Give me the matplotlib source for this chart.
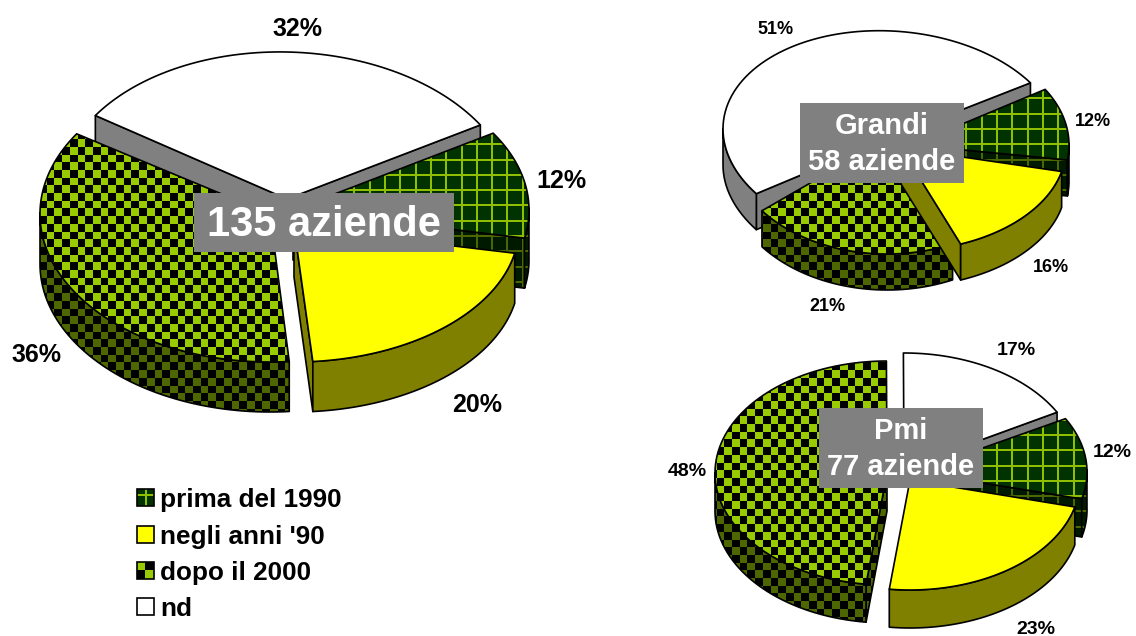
import numpy as np
import matplotlib
matplotlib.use("Agg")
import matplotlib.pyplot as plt
from matplotlib.patches import Polygon, Rectangle

plt.rcParams['font.family'] = ['Liberation Sans', 'DejaVu Sans']

# Data
categories = ['prima del 1990', 'negli anni \'90', 'dopo il 2000', 'nd']
totale = [12, 20, 36, 32]
grandi = [12, 16, 21, 51]
pmi = [12, 23, 48, 17]

W, H = 1136, 636

# Colours per category: top colours and wall colours
GRID_BG, GRID_LINE, GRID_LINE_DARK = '#003300', '#8fbf00', '#4d6600'
CHECK_A, CHECK_B, CHECK_A_DARK = '#99cc00', '#000000', '#4d6600'


def rgb(c):
    return np.array(matplotlib.colors.to_rgb(c))


def grid_image(bg, line, step=15.3, width=2):
    img = np.tile(rgb(bg), (H, W, 1))
    for v in np.arange(2, W, step):
        img[:, int(v):int(v) + width] = rgb(line)
    for v in np.arange(6, H, step):
        img[int(v):int(v) + width, :] = rgb(line)
    return img


def check_image(a, b, step=7.7):
    yy, xx = np.mgrid[0:H, 0:W]
    mask = ((xx // step + yy // step) % 2) == 0
    img = np.zeros((H, W, 3))
    img[mask] = rgb(a)
    img[~mask] = rgb(b)
    return img


grid_top = grid_image(GRID_BG, GRID_LINE)
grid_wall = grid_image('#001a00', GRID_LINE_DARK)
check_top = check_image(CHECK_A, CHECK_B)
check_wall = check_image(CHECK_A_DARK, CHECK_B)

top_fill = [grid_top, '#ffff00', check_top, '#ffffff']
wall_fill = [grid_wall, '#808000', check_wall, '#808080']

fig = plt.figure(figsize=(W / 100, H / 100), dpi=100)
ax = fig.add_axes([0, 0, 1, 1])
ax.set_xlim(0, W)
ax.set_ylim(H, 0)
ax.axis('off')


def fill_shape(pts, fill, z):
    if isinstance(fill, str):
        ax.add_patch(Polygon(pts, closed=True, fc=fill, ec='black', lw=1.2, zorder=z, joinstyle='round'))
    else:
        im = ax.imshow(fill, extent=(0, W, H, 0), interpolation='nearest', zorder=z, aspect='auto')
        clip = Polygon(pts, closed=True, transform=ax.transData, fc='none', ec='none')
        ax.add_patch(clip)
        im.set_clip_path(clip)
        ax.add_patch(Polygon(pts, closed=True, fc='none', ec='black', lw=1.2, zorder=z + 0.01, joinstyle='round'))


def pie3d(values, slices, nudges, start, depth, face_depth=None, draw_order=(3, 0, 2, 1), z0=1):
    # slices: per-slice (cx, cy, rx, ry, shear) of the exploded ellipse
    # nudges: per-slice angle correction for the picture's perspective
    edges = start + np.cumsum([0] + list(values)) * 3.6
    face_depth = face_depth or {}
    for n, i in enumerate(draw_order):
        cx, cy, rx, ry, shear = slices[i]
        t = np.radians(np.linspace(edges[i] + nudges[i][0], edges[i + 1] + nudges[i][1], 80))
        xs = cx + rx * np.sin(t)
        ys = cy - ry * np.cos(t) + shear * rx * np.sin(t)
        top = np.column_stack([np.r_[cx, xs], np.r_[cy, ys]])
        z = z0 + n
        d = face_depth.get(i, depth)
        # radial cut faces, only those turned towards the viewer
        if np.sin(t[0]) < -0.01:
            fill_shape([(cx, cy), (xs[0], ys[0]), (xs[0], ys[0] + d), (cx, cy + d)], wall_fill[i], z)
        if np.sin(t[-1]) > 0.01:
            fill_shape([(cx, cy), (xs[-1], ys[-1]), (xs[-1], ys[-1] + d), (cx, cy + d)], wall_fill[i], z)
        # outer wall, only the part facing the viewer
        vis = np.cos(t) <= 0.02
        if vis.any():
            wx, wy = xs[vis], ys[vis]
            wall = np.column_stack([np.r_[wx, wx[::-1]], np.r_[wy, wy[::-1] + depth]])
            fill_shape(wall, wall_fill[i], z + 0.1)
        fill_shape(top, top_fill[i], z + 0.2)


pie3d(totale,
      [(293, 210, 236, 145, 0), (294, 227, 225, 135, 0), (270, 214, 230, 148, 0), (287, 199, 228, 147, 0.02)],
      [(0, 0), (0, 2), (2, 0), (0, 0)], 58, 50)
pie3d(grandi,
      [(912, 145, 157, 105, 0), (901, 148, 165, 103, 0), (887, 139, 160, 115, 0), (892, 137, 169, 106, 0.048)],
      [(3, 0), (5, 3), (0, 0), (2, 0)], 55, 36)
pie3d(pmi,
      [(915, 472, 172, 110, 0), (910, 480, 170, 110, 0), (887, 473, 172, 112, 0), (904, 468, 175, 115, 0)],
      [(0, 0), (0, 0), (0, 0), (0, 0)], 61, 38, face_depth={3: 15})


def box_label(x0, y0, x1, y1, text, size, shift):
    ax.add_patch(Rectangle((x0, y0), x1 - x0, y1 - y0, fc='#808080', ec='none', zorder=20))
    ax.text((x0 + x1) / 2, (y0 + y1) / 2 + shift, text, color='white', fontsize=size, fontweight='bold',
            ha='center', va='center', zorder=21, linespacing=1.32)


box_label(194, 193, 454, 252, '135 aziende', 30, 3)
box_label(800, 103, 964, 183, 'Grandi\n58 aziende', 21, 1)
box_label(819, 408, 983, 488, 'Pmi\n77 aziende', 21, 1)


def pct_labels(values, places, size):
    for v, (x, y) in zip(values, places):
        ax.text(x, y + 1.5, f'{v}%', fontsize=size, fontweight='bold', ha='center', va='center', zorder=30)


pct_labels(totale, [(561, 180), (477, 403), (36, 353), (297, 27)], 18)
pct_labels(grandi, [(1093, 120), (1051, 266), (827, 305), (776, 28)], 13)
pct_labels(pmi, [(1112, 451), (1036, 628), (687, 470), (1016, 349)], 14)

# Legend
swatch_grid = np.tile(rgb(GRID_BG), (17, 17, 1))
swatch_grid[:, 8:10] = rgb(GRID_LINE)
swatch_grid[5:7, :] = rgb(GRID_LINE)
swatch_check = np.zeros((17, 17, 3))
swatch_check[:8, :8] = rgb(CHECK_A)
swatch_check[8:, 8:] = rgb(CHECK_A)
legend_y = [498, 535, 571, 607]
swatches = [swatch_grid, '#ffff00', swatch_check, '#ffffff']
for label, y, sw in zip(categories, legend_y, swatches):
    if isinstance(sw, str):
        ax.add_patch(Rectangle((137, y - 9), 17, 17, fc=sw, ec='black', lw=1.2, zorder=5))
    else:
        ax.imshow(sw, extent=(137, 154, y + 8, y - 9), interpolation='nearest', zorder=5, aspect='auto')
        ax.add_patch(Rectangle((137, y - 9), 17, 17, fc='none', ec='black', lw=1.2, zorder=6))
    ax.text(160, y + 2, label, fontsize=18.8, fontweight='bold', ha='left', va='center', zorder=5)

ax.set_xlim(0, W)
ax.set_ylim(H, 0)
fig.savefig('out.png', dpi=100)
